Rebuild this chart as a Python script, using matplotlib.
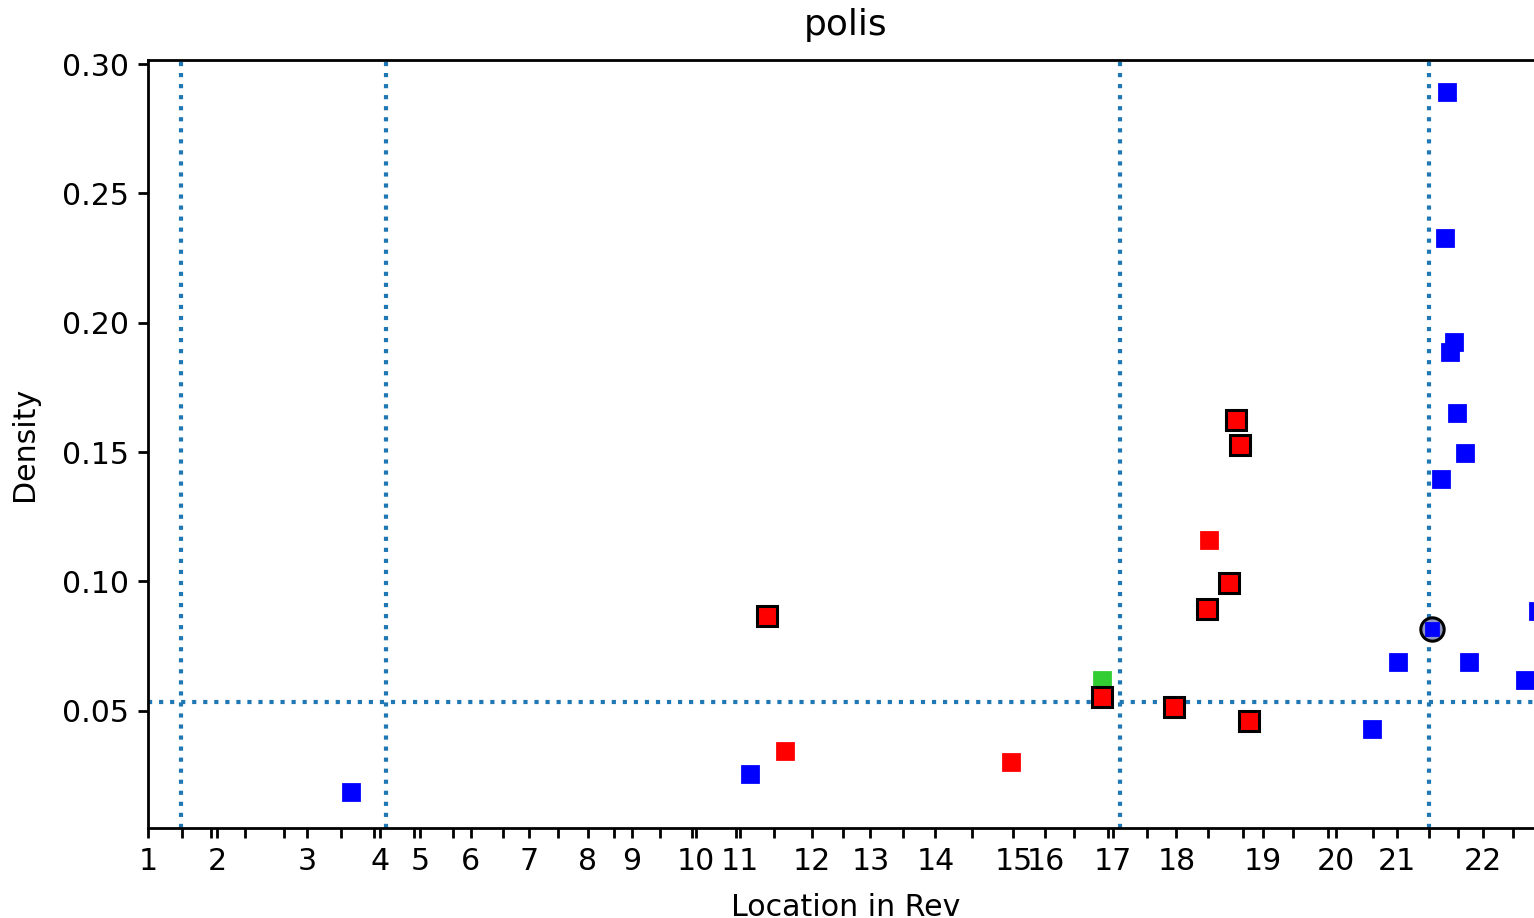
import matplotlib.pyplot as plt

# =====================
# 데이터
# =====================
# chapter starts (location units along the text)
chapter_starts = [0, 483, 1113, 1624, 1904, 2261, 2667, 3080, 3388, 3836, 4144,
                  4648, 5061, 5516, 6062, 6286, 6762, 7203, 7812, 8323, 8750, 9352]
chapter_labels = [str(i) for i in range(1, 23)]
# verse 10 / verse 20 ticks
verse_ticks = [238, 441, 679, 952, 1351, 1582, 1862, 2135, 2485, 2870, 3262,
               3584, 3808, 4116, 4382, 4865, 5292, 5775, 6489, 6727, 7000,
               7427, 7672, 8022, 8267, 8582, 8974, 9177, 9562]

blue_x = [1421, 4214, 8575, 8757, 9100, 9086, 9149, 9121, 9170, 9226, 9058, 9254, 9646, 9737]
blue_y = [0.0187, 0.0256, 0.0430, 0.0690, 0.2892, 0.2327, 0.1924, 0.1889, 0.1653,
          0.1498, 0.1398, 0.0690, 0.0620, 0.0887]

red_x = [4459, 6048, 7434]
red_y = [0.0345, 0.0303, 0.1162]

green_x = [6685]
green_y = [0.0620]

red_edge_x = [4333, 6685, 7189, 7420, 7574, 7623, 7651, 7714]
red_edge_y = [0.0868, 0.0554, 0.0515, 0.0895, 0.0995, 0.1626, 0.1529, 0.0461]

circle_x = [8995]
circle_y = [0.0817]

vlines = [231, 1666, 6811, 8974]
hline = 0.0535

# =====================
# 그림
# =====================
plt.rcParams['font.size'] = 10.8
plt.rcParams['axes.linewidth'] = 1.0
fig = plt.figure(figsize=(1534 / 200, 918 / 200), dpi=200)
ax = fig.add_axes([148 / 1534, 90 / 918, (1544 - 148) / 1534, (828 - 60) / 918])

for v in vlines:
    ax.axvline(v, color='C0', linestyle=':', linewidth=1.5, zorder=1)
ax.axhline(hline, color='C0', linestyle=':', linewidth=1.5, zorder=1)

ax.plot(blue_x, blue_y, 's', color='blue', markersize=5.8, linestyle='none', zorder=3)
ax.plot(red_x, red_y, 's', color='red', markersize=5.8, linestyle='none', zorder=3)
ax.plot(green_x, green_y, 's', color='limegreen', markersize=5.8, linestyle='none', zorder=3)
ax.plot(red_edge_x, red_edge_y, 's', color='red', markeredgecolor='black',
        markeredgewidth=1.1, markersize=7.4, linestyle='none', zorder=4)
ax.plot(circle_x, circle_y, 'o', markerfacecolor='#8f96c4', markeredgecolor='black',
        markeredgewidth=1.1, markersize=8.4, linestyle='none', zorder=4)
ax.plot(circle_x, circle_y, 's', color='blue', markersize=4.4, linestyle='none', zorder=5)

ax.set_xlim(0, 9779)
ax.set_ylim(0.0047, 0.3016)
ax.set_xticks(chapter_starts)
ax.set_xticklabels(chapter_labels)
ax.set_xticks(verse_ticks, minor=True)
ax.tick_params(axis='both', which='major', length=3.5, width=1.0)
ax.tick_params(axis='x', which='minor', length=3.5, width=1.0)
ax.set_yticks([0.05, 0.10, 0.15, 0.20, 0.25, 0.30])

ax.set_title('polis', pad=9)
ax.set_xlabel('Location in Rev', labelpad=6)
ax.set_ylabel('Density', labelpad=8)

fig.savefig('out.png', dpi=200)
